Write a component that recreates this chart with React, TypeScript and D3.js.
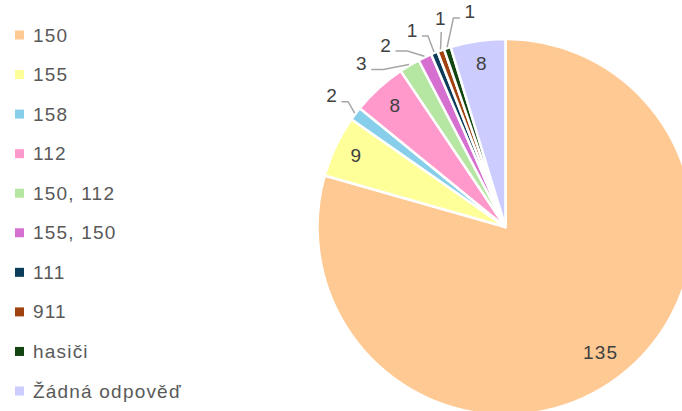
import React from "react";
import * as d3 from "d3";

const categories = ["150", "155", "158", "112", "150, 112", "155, 150", "111", "911", "hasiči", "Žádná odpověď"];
const values = [135, 9, 2, 8, 3, 2, 1, 1, 1, 8];
const colors = ["#FFC994", "#FFFF99", "#87CEEB", "#FF99CC", "#B5E6A2", "#D670D0", "#0B3D5B", "#A0420F", "#124512", "#CCCCFF"];

const W = 682;
const H = 411;
const CX = 505.5;
const CY = 227;
const R = 188;
const FONT = "'Liberation Sans', Arial, sans-serif";
const FS = 19;
const LS = 1.2;

export default function App() {
  const pie = d3.pie<number>().sort(null).value((d) => d)(values);
  const arc = d3.arc<d3.PieArcDatum<number>>().innerRadius(0).outerRadius(R);

  const legendY = d3.scalePoint<string>().domain(categories).range([35, 391]);

  const mid = (a: d3.PieArcDatum<number>) => (a.startAngle + a.endAngle) / 2;
  const polar = (ang: number, r: number) => [CX + r * Math.sin(ang), CY - r * Math.cos(ang)];

  const inside = pie.filter((p) => p.data > 3);
  const outside = pie.filter((p) => p.data <= 3);

  // spread outside labels of neighbouring thin slices with a minimal angular gap,
  // centred on the angular span the cluster of slices covers
  const minGap = (8 * Math.PI) / 180;
  const angs = outside.map((p) => mid(p));
  const groups: number[][] = [];
  angs.forEach((a, i) => {
    const g = groups[groups.length - 1];
    if (g && a - angs[g[g.length - 1]] < minGap) g.push(i);
    else groups.push([i]);
  });
  const placed = angs.slice();
  groups.forEach((g) => {
    const first = outside[g[0]];
    const last = outside[g[g.length - 1]];
    const centre = (first.startAngle + last.endAngle) / 2;
    g.forEach((i, k) => {
      placed[i] = g.length === 1 ? angs[i] : centre + (k - (g.length - 1) / 2) * minGap;
    });
  });

  const labelR = R + 30;
  const charW = FS * 0.556 + LS;

  return (
    <svg width={W} height={H} style={{ position: "absolute", left: 0, top: 0, background: "#fff" }} fontFamily={FONT}>
      <g>
        {pie.map((p, i) => (
          <path
            key={i}
            d={arc(p) as string}
            transform={`translate(${CX},${CY})`}
            fill={colors[i]}
            stroke="#fff"
            strokeWidth={2.5}
            strokeLinejoin="round"
          />
        ))}
      </g>
      <g>
        {inside.map((p) => {
          const a = mid(p);
          const hw = (String(p.data).length * charW) / 2;
          const hh = 9;
          const proj = Math.abs(Math.sin(a)) * hw + Math.abs(Math.cos(a)) * hh;
          const [x, y] = polar(a, R * 0.93 - proj);
          return (
            <text key={p.index} x={x + LS / 2} y={y} textAnchor="middle" dominantBaseline="central" fontSize={FS} letterSpacing={LS} fill="#404040">
              {p.data}
            </text>
          );
        })}
      </g>
      <g>
        {outside.map((p, k) => {
          const [px, py] = polar(mid(p), R + 1);
          const [lx, ly] = polar(placed[k], labelR);
          let pts: number[][];
          if (Math.abs(px - lx) < 8) {
            pts = [[lx + 1, ly + 13], [px, py]];
          } else {
            const s = Math.sign(px - lx);
            const sx = lx + s * 10;
            const sy = ly + 6;
            const ex = sx + s * Math.min(12, Math.abs(px - sx) * 0.5);
            pts = [[sx, sy], [ex, sy], [px, py]];
          }
          return (
            <g key={p.index}>
              <polyline points={pts.map((q) => q.join(",")).join(" ")} fill="none" stroke="#A6A6A6" strokeWidth={1.5} />
              <text x={lx + LS / 2} y={ly} textAnchor="middle" dominantBaseline="central" fontSize={FS} letterSpacing={LS} fill="#404040">
                {p.data}
              </text>
            </g>
          );
        })}
      </g>
      <g>
        {categories.map((c, i) => (
          <g key={c} transform={`translate(0,${legendY(c)})`}>
            <rect x={15} y={-4.5} width={9} height={9} fill={colors[i]} />
            <text x={33} y={0} dominantBaseline="central" fontSize={FS} letterSpacing={LS} fill="#595959">
              {c}
            </text>
          </g>
        ))}
      </g>
    </svg>
  );
}
